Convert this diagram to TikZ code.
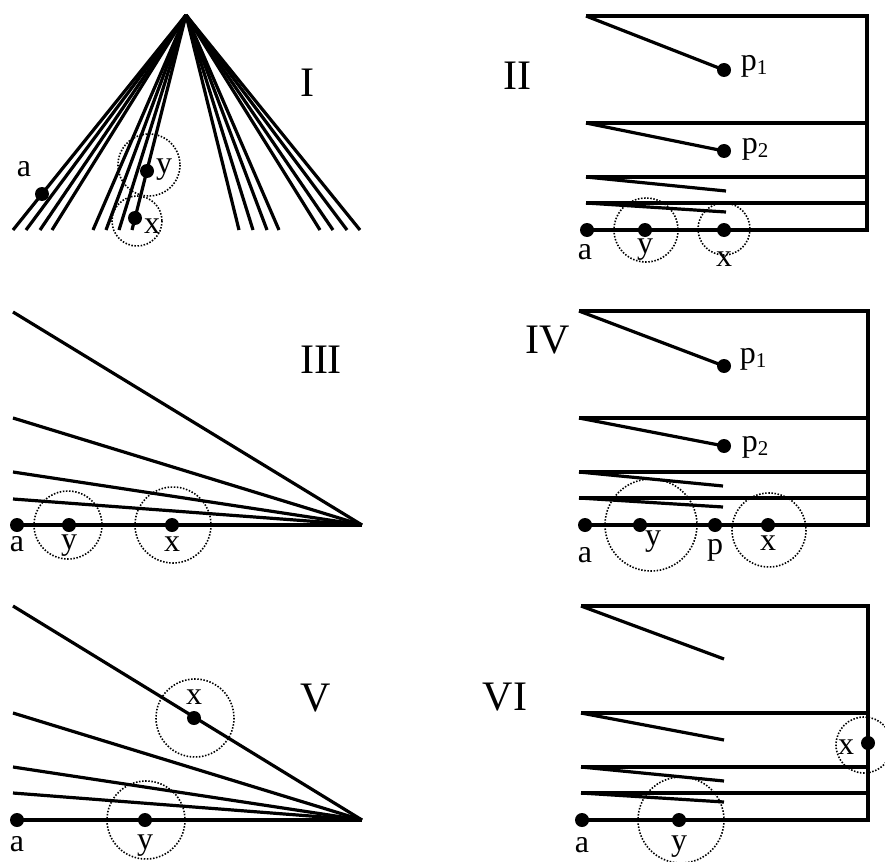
\documentclass[tikz,border=0pt]{standalone}
\usepackage{fontspec}
\setmainfont{Liberation Serif}
\begin{document}
\begin{tikzpicture}[x=1pt,y=-1pt,
  ln/.style={line width=3.2pt},
  dot/.style={circle,fill,inner sep=0pt,minimum size=14pt},
  ring/.style={draw,line width=1.6pt,dash pattern=on 1.5pt off 1.6pt},
  lbl/.style={inner sep=0pt,font=\fontsize{32}{32}\selectfont},
  num/.style={inner sep=0pt,font=\fontsize{42}{42}\selectfont}]
\newcommand{\sub}[1]{\raisebox{-0.14em}{\fontsize{21}{21}\selectfont #1}}
\useasboundingbox (0,0) rectangle (885,861);
\clip (0,0) rectangle (885,861);

% ---------------- Panel I ----------------
\coordinate (IA) at (186,15);
\foreach \b [count=\i] in {13,26,40,52,93,106,119,132,239,253,267,279,320,333,347,360}{
  \coordinate (Ib\i) at (\b,230);
  \draw[ln] (IA) -- (Ib\i);
}
\node[dot] (Ia) at (42,194) {};
\node[dot] (Iy) at (147,171) {};
\node[dot] (Ix) at (135,218) {};
\draw[ring] (149,165) circle[radius=31];
\draw[ring] (137,221) circle[radius=25];
\node[lbl] (Ila) at (24,169) {a};
\node[lbl] (Ily) at (164,170) {y};
\node[lbl] (Ilx) at (152,226) {x};
\node[num] (InI) at (307,83) {I};

% ---------------- Panel II ----------------
\coordinate (IIt) at (586,16);
\coordinate (IIh2) at (586,123);
\coordinate (IIh3) at (586,177);
\coordinate (IIh4) at (586,203);
\coordinate (IIr1) at (867,16);
\coordinate (IIr2) at (867,123);
\coordinate (IIr3) at (867,177);
\coordinate (IIr4) at (867,203);
\coordinate (IIr5) at (867,230);
\coordinate (IIe3) at (726,191);
\coordinate (IIe4) at (726,212);
\node[dot] (IIp1) at (724,70) {};
\node[dot] (IIp2) at (724,151) {};
\node[dot] (IIa) at (587,230) {};
\node[dot] (IIy) at (645,230) {};
\node[dot] (IIx) at (724,230) {};
\draw[ln] (IIt) -- (IIr1) -- (IIr5) -- (IIa.center);
\draw[ln] (IIh2) -- (IIr2);
\draw[ln] (IIh3) -- (IIr3);
\draw[ln] (IIh4) -- (IIr4);
\draw[ln] (IIt) -- (IIp1.center);
\draw[ln] (IIh2) -- (IIp2.center);
\draw[ln] (IIh3) -- (IIe3);
\draw[ln] (IIh4) -- (IIe4);
\draw[ring] (646,230) circle[radius=32];
\draw[ring] (724,229) circle[radius=26];
\node[lbl] (IIla) at (585,252) {a};
\node[lbl] (IIly) at (645,250) {y};
\node[lbl] (IIlx) at (724,259) {x};
\node[lbl] (IIlp1) at (754,66) {p\sub{1}};
\node[lbl] (IIlp2) at (755,149) {p\sub{2}};
\node[num] (InII) at (517,76) {II};

% ---------------- Panel III ----------------
\coordinate (IIIA) at (362,525);
\foreach \yy [count=\i] in {312,418,472,499}{
  \coordinate (IIIl\i) at (13,\yy);
  \draw[ln] (IIIl\i) -- (IIIA);
}
\node[dot] (IIIa) at (17,525) {};
\node[dot] (IIIy) at (69,525) {};
\node[dot] (IIIx) at (172,525) {};
\draw[ln] (IIIa.center) -- (IIIA);
\draw[ring] (68,525) circle[radius=34];
\draw[ring] (173,525) circle[radius=38];
\node[lbl] (IIIla) at (17,544) {a};
\node[lbl] (IIIly) at (69,546) {y};
\node[lbl] (IIIlx) at (172,544) {x};
\node[num] (InIII) at (321,360) {III};

% ---------------- Panel IV ----------------
\coordinate (IVt) at (579,311);
\coordinate (IVh2) at (579,418);
\coordinate (IVh3) at (579,472);
\coordinate (IVh4) at (579,498);
\coordinate (IVr1) at (868,311);
\coordinate (IVr2) at (868,418);
\coordinate (IVr3) at (868,472);
\coordinate (IVr4) at (868,498);
\coordinate (IVr5) at (868,525);
\coordinate (IVe3) at (723,486);
\coordinate (IVe4) at (723,507);
\node[dot] (IVp1) at (724,366) {};
\node[dot] (IVp2) at (724,446) {};
\node[dot] (IVa) at (585,525) {};
\node[dot] (IVy) at (640,525) {};
\node[dot] (IVp) at (715,525) {};
\node[dot] (IVx) at (768,525) {};
\draw[ln] (IVt) -- (IVr1) -- (IVr5) -- (IVa.center);
\draw[ln] (IVh2) -- (IVr2);
\draw[ln] (IVh3) -- (IVr3);
\draw[ln] (IVh4) -- (IVr4);
\draw[ln] (IVt) -- (IVp1.center);
\draw[ln] (IVh2) -- (IVp2.center);
\draw[ln] (IVh3) -- (IVe3);
\draw[ln] (IVh4) -- (IVe4);
\draw[ring] (651,525) circle[radius=46];
\draw[ring] (769,530) circle[radius=37];
\node[lbl] (IVla) at (585,555) {a};
\node[lbl] (IVly) at (653,542) {y};
\node[lbl] (IVlp) at (715,550) {p};
\node[lbl] (IVlx) at (768,543) {x};
\node[lbl] (IVlp1) at (753,359) {p\sub{1}};
\node[lbl] (IVlp2) at (755,447) {p\sub{2}};
\node[num] (InIV) at (548,340) {IV};

% ---------------- Panel V ----------------
\coordinate (VA) at (362,820);
\foreach \yy [count=\i] in {606,713,767,793}{
  \coordinate (Vl\i) at (13,\yy);
  \draw[ln] (Vl\i) -- (VA);
}
\node[dot] (Va) at (17,820) {};
\node[dot] (Vy) at (145,820) {};
\node[dot] (Vx) at (194,718) {};
\draw[ln] (Va.center) -- (VA);
\draw[ring] (195,718) circle[radius=39];
\draw[ring] (146,820) circle[radius=39];
\node[lbl] (Vla) at (17,844) {a};
\node[lbl] (Vly) at (145,846) {y};
\node[lbl] (Vlx) at (194,697) {x};
\node[num] (InV) at (316,698) {V};

% ---------------- Panel VI ----------------
\coordinate (VIt) at (581,606);
\coordinate (VIh2) at (581,713);
\coordinate (VIh3) at (581,767);
\coordinate (VIh4) at (581,793);
\coordinate (VIr1) at (868,606);
\coordinate (VIr2) at (868,713);
\coordinate (VIr3) at (868,767);
\coordinate (VIr4) at (868,793);
\coordinate (VIr5) at (868,820);
\coordinate (VIe1) at (724,659);
\coordinate (VIe2) at (724,740);
\coordinate (VIe3) at (724,781);
\coordinate (VIe4) at (724,802);
\node[dot] (VIa) at (582,820) {};
\node[dot] (VIy) at (679,820) {};
\node[dot] (VIx) at (868,743) {};
\draw[ln] (VIt) -- (VIr1) -- (VIr5) -- (VIa.center);
\draw[ln] (VIh2) -- (VIr2);
\draw[ln] (VIh3) -- (VIr3);
\draw[ln] (VIh4) -- (VIr4);
\draw[ln] (VIt) -- (VIe1);
\draw[ln] (VIh2) -- (VIe2);
\draw[ln] (VIh3) -- (VIe3);
\draw[ln] (VIh4) -- (VIe4);
\draw[ring] (864,745) circle[radius=28];
\draw[ring] (681,820) circle[radius=43];
\node[lbl] (VIla) at (582,845) {a};
\node[lbl] (VIly) at (679,847) {y};
\node[lbl] (VIlx) at (846,747) {x};
\node[num] (InVI) at (505,697) {VI};
\end{tikzpicture}
\end{document}
